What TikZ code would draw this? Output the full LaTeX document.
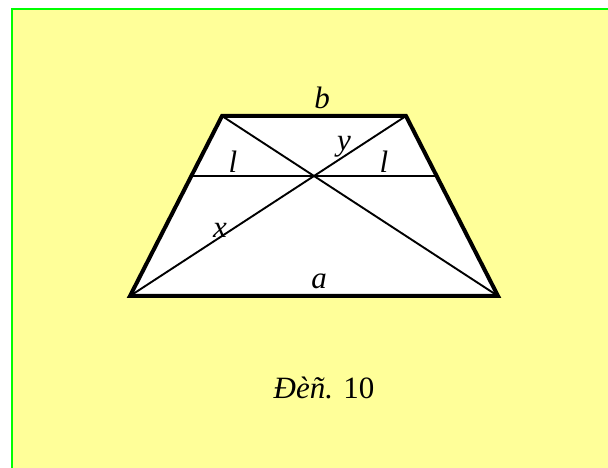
\documentclass[tikz,border=0pt]{standalone}
\usepackage{fontspec}
\setmainfont{Liberation Serif}
\definecolor{bgyellow}{RGB}{255,255,153}
\definecolor{bordergreen}{RGB}{0,255,0}
\tikzset{
  lbl/.style={font=\fontsize{31}{33}\selectfont\itshape, inner sep=0pt},
  thickedge/.style={line width=4pt, line join=miter},
  thinline/.style={line width=1.9pt}
}
\begin{document}
\begin{tikzpicture}[x=1pt,y=1pt]
\useasboundingbox (0,0) rectangle (608,468);
\fill[white] (0,0) rectangle (608,468);
\fill[bgyellow] (12,0) rectangle (610,459);
\draw[bordergreen, line width=2.5pt] (12.2,-2) -- (12.2,458.8) -- (612,458.8);
% vertices
\coordinate (A) at (130,172);
\coordinate (B) at (498,172);
\coordinate (C) at (406,352);
\coordinate (D) at (222,352);
\coordinate (L) at (191.3,292);
\coordinate (R) at (436.7,292);
\fill[white] (A) -- (B) -- (C) -- (D) -- cycle;
\draw[thinline] (A) -- (C);
\draw[thinline] (D) -- (B);
\draw[thinline] (L) -- (R);
\draw[thickedge] (A) -- (B) -- (C) -- (D) -- cycle;
% labels
\node[lbl] (lb) at (322,370) {b};
\node[lbl] (ll) at (233,306) {l};
\node[lbl] (ly) at (344,321) {y};
\node[lbl] (lr) at (384,306) {l};
\node[lbl] (lx) at (220,238) {x};
\node[lbl] (la) at (319,187) {a};
\node[font=\fontsize{31}{33}\selectfont, anchor=base, inner sep=0pt] (cap) at (324,69) {\textit{Đèñ.} 10};
\end{tikzpicture}
\end{document}
